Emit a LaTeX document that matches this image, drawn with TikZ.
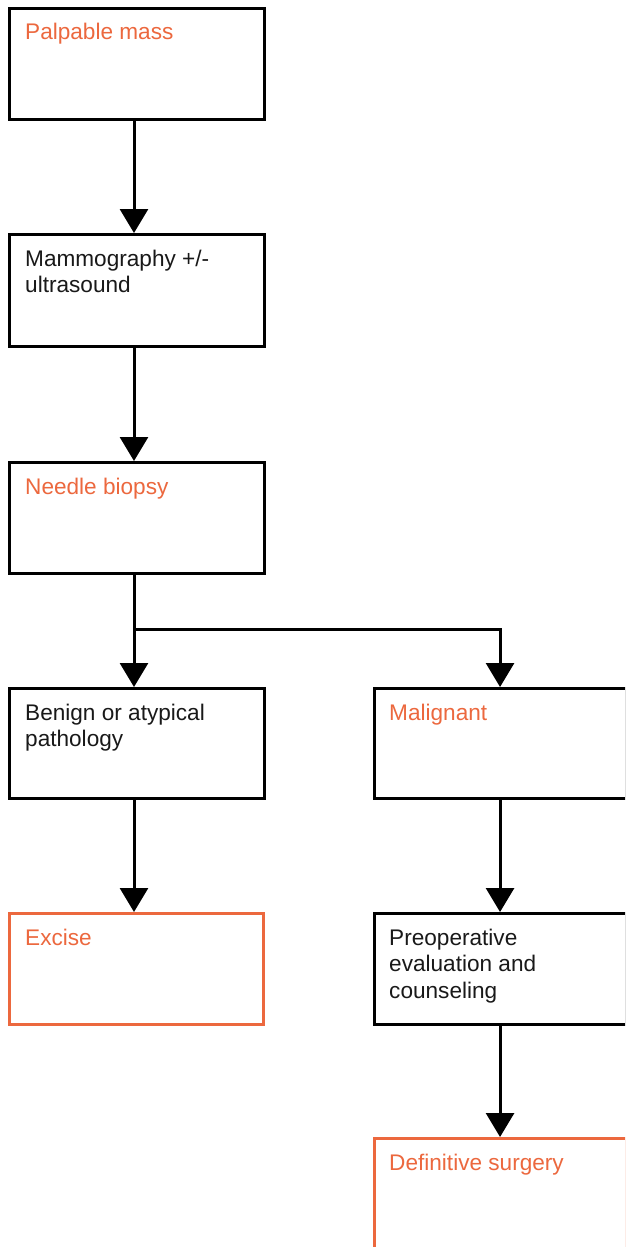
\documentclass[tikz,border=0pt]{standalone}
\usepackage{fontspec}
\setmainfont{Liberation Sans}
\usetikzlibrary{arrows.meta}
\definecolor{accent}{RGB}{236,104,62}
\definecolor{ink}{RGB}{25,25,25}
\tikzset{
  box/.style={draw=black, line width=2.6pt, fill=white, rectangle, inner sep=0pt, anchor=north west},
  keybox/.style={box, draw=accent},
  label/.style={anchor=base west, inner sep=0pt, align=left, text=ink,
    font=\fontsize{22.6}{26.5}\selectfont},
  keylabel/.style={label, text=accent},
  flow/.style={line width=3pt, -{Triangle[width=28pt,length=24pt]}},
}
\begin{document}
\begin{tikzpicture}[x=1pt,y=-1pt]
  \useasboundingbox (0,0) rectangle (625,1247);
  \clip (0,0) rectangle (625,1247);

  % left column (multi-line labels are placed by their last baseline)
  \node[keybox, draw=black, minimum width=255pt, minimum height=111pt] (mass) at (8,7) {};
  \node[keylabel] (massT) at (25,40) {Palpable mass};

  \node[box, minimum width=255pt, minimum height=112pt] (imaging) at (8,233) {};
  \node[label] (imagingT) at (25,292.5) {Mammography +/-\\ultrasound};

  \node[box, minimum width=255pt, minimum height=111pt] (biopsy) at (8,461) {};
  \node[keylabel] (biopsyT) at (25,494) {Needle biopsy};

  \node[box, minimum width=255pt, minimum height=110pt] (benign) at (8,687) {};
  \node[label] (benignT) at (25,746.5) {Benign or atypical\\pathology};

  \node[keybox, minimum width=254pt, minimum height=111pt] (excise) at (8,912) {};
  \node[keylabel] (exciseT) at (25,945) {Excise};

  % right column, running up to the page edge
  \node[box, minimum width=251.5pt, minimum height=110pt] (malig) at (373,687) {};
  \node[keylabel] (maligT) at (389,720) {Malignant};

  \node[box, minimum width=251.5pt, minimum height=111pt] (preop) at (373,912) {};
  \node[label] (preopT) at (389,998) {Preoperative\\evaluation and\\counseling};

  \node[keybox, minimum width=251.5pt, minimum height=109.5pt] (surgery) at (373,1137) {};
  \node[keylabel] (surgeryT) at (389,1170) {Definitive surgery};

  % connectors
  \coordinate (fork) at (134,629);
  \draw[flow] (mass.south -| fork) -- (imaging.north -| fork);
  \draw[flow] (imaging.south -| fork) -- (biopsy.north -| fork);
  \draw[flow] (biopsy.south -| fork) -- (benign.north -| fork);
  \draw[flow] (fork) -| (malig.north);
  \draw[flow] (benign.south -| fork) -- (excise.north -| fork);
  \draw[flow] (malig.south) -- (preop.north);
  \draw[flow] (preop.south) -- (surgery.north);
\end{tikzpicture}
\end{document}
